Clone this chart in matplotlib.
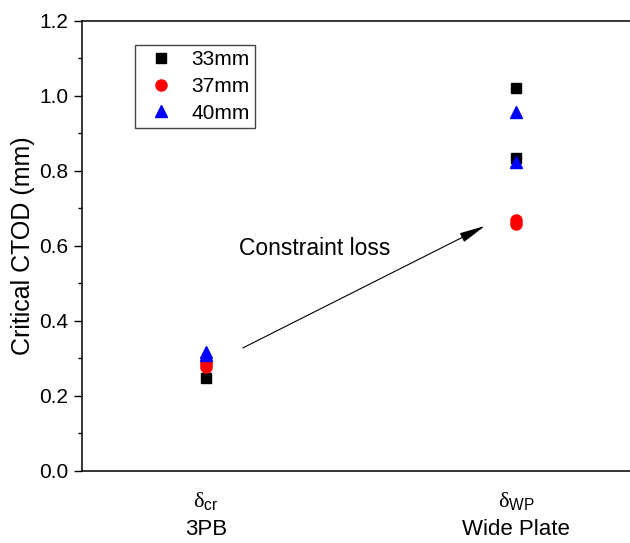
import matplotlib
matplotlib.use('Agg')
import matplotlib.pyplot as plt
from matplotlib.ticker import MultipleLocator

# Data
tests = ['3PB', 'Wide Plate']
tick_labels = [r'$\mathrm{\delta}_{\mathsf{cr}}$' + '\n3PB',
               r'$\mathrm{\delta}_{\mathsf{WP}}$' + '\nWide Plate']
x_3pb = [1, 1]
x_wp = [2, 2]
ctod_33_3pb = [0.247, 0.290]
ctod_33_wp = [1.020, 0.835]
ctod_37_3pb = [0.278, 0.288]
ctod_37_wp = [0.658, 0.668]
ctod_40_3pb = [0.310, 0.318]
ctod_40_wp = [0.958, 0.824]

plt.rcParams['font.family'] = 'Liberation Sans'
plt.rcParams['mathtext.fontset'] = 'custom'
plt.rcParams['mathtext.rm'] = 'Liberation Serif'
plt.rcParams['mathtext.sf'] = 'Liberation Sans'

fig = plt.figure(figsize=(6.3, 5.43), dpi=100)
ax = fig.add_axes([82 / 630, 72 / 543, 560 / 630, 450.3 / 543])

ax.plot(x_3pb + x_wp, ctod_33_3pb + ctod_33_wp, linestyle='none', marker='s',
        ms=7, color='black', label='33mm')
ax.plot(x_3pb + x_wp, ctod_37_3pb + ctod_37_wp, linestyle='none', marker='o',
        ms=8, color='red', label='37mm')
ax.plot(x_3pb + x_wp, ctod_40_3pb + ctod_40_wp, linestyle='none', marker='^',
        ms=9, color='blue', label='40mm')

# arrow + note
ax.annotate('', xy=(1.9, 0.653), xytext=(1.119, 0.328),
            arrowprops=dict(arrowstyle='-|>,head_length=0.8,head_width=0.15',
                            mutation_scale=20, lw=0.8, color='black',
                            shrinkA=0, shrinkB=0))
ax.text(1.352, 0.593, 'Constraint loss', ha='center', va='center', fontsize=16.5)

ax.set_xlim(0.6, 0.6 + 560 / 310)
ax.set_ylim(0, 1.2)
ax.set_xticks([1, 2])
ax.set_xticklabels(tick_labels, fontsize=16, linespacing=1.35)
ax.yaxis.set_minor_locator(MultipleLocator(0.1))
ax.set_yticks([0.0, 0.2, 0.4, 0.6, 0.8, 1.0, 1.2])
ax.set_yticklabels(['0.0', '0.2', '0.4', '0.6', '0.8', '1.0', '1.2'], fontsize=15)
ax.tick_params(axis='x', length=0, pad=14)
ax.tick_params(axis='y', which='major', length=6, width=1, direction='out', pad=4)
ax.tick_params(axis='y', which='minor', length=3, width=1, direction='out')
ax.set_ylabel('Critical CTOD (mm)', fontsize=18, labelpad=3)

for s in ax.spines.values():
    s.set_linewidth(1.1)

leg = ax.legend(loc='upper left', bbox_to_anchor=(53 / 560, (471 - 45) / 450.3),
                borderaxespad=0, fontsize=15, numpoints=1, fancybox=False,
                framealpha=1, edgecolor='#444444', labelspacing=0.37,
                borderpad=0.25, handlelength=2.0, handletextpad=0.45)
leg.get_frame().set_linewidth(1)

fig.savefig('out.png', dpi=100)
